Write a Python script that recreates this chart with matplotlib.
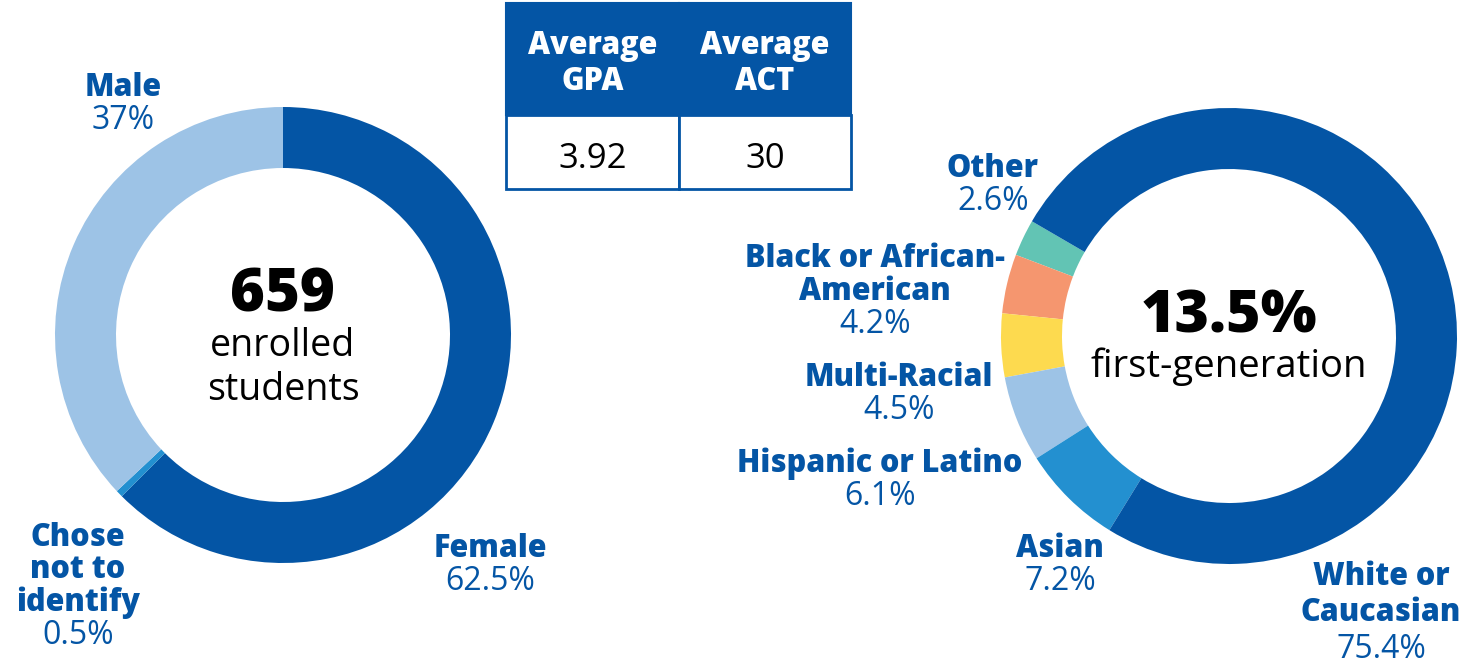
import matplotlib
matplotlib.use("Agg")
import matplotlib.pyplot as plt
from matplotlib.patches import Rectangle

plt.rcParams['font.family'] = ['Open Sans', 'DejaVu Sans']

# datos
genero = ["Female", "Chose not to identify", "Male"]
genero_pct = [62.5, 0.5, 37.0]
genero_colores = ["#0455a5", "#2390d0", "#9dc3e6"]
total_alumnos = 659

etnia = ["Other", "Black or African-American", "Multi-Racial",
         "Hispanic or Latino", "Asian", "White or Caucasian"]
etnia_pct = [2.6, 4.2, 4.5, 6.1, 7.2, 75.4]
etnia_colores = ["#62c4b4", "#f5966f", "#fdda4f", "#9dc3e6", "#2390d0", "#0455a5"]
primera_gen = 13.5

tabla_encabezados = ["Average\nGPA", "Average\nACT"]
tabla_valores = ["3.92", "30"]

AZUL = "#0455a5"
W, H = 1480, 664
DY = 4  # va=center deja el texto algo alto

fig = plt.figure(figsize=(W / 100, H / 100), dpi=100)


def px(x, y):
    return x / W, 1 - (y + DY) / H


def donut(cx, cy, r, r_in, valores, colores, start, ccw):
    ax = fig.add_axes([(cx - r) / W, 1 - (cy + r) / H, 2 * r / W, 2 * r / H])
    ax.pie(valores, colors=colores, startangle=start, counterclock=ccw,
           radius=1, wedgeprops=dict(width=1 - r_in / r, linewidth=0))
    ax.set_xlim(-1, 1)
    ax.set_ylim(-1, 1)
    ax.set_aspect("equal")
    ax.axis("off")
    return ax


donut(283, 335, 228, 167, genero_pct, genero_colores, 90, False)
donut(1229, 336, 228, 167, etnia_pct, etnia_colores, 149.8, True)


def etiqueta(x, y, nombre, pct, paso=32.5):
    lineas = nombre.split("\n")
    for i, l in enumerate(lineas):
        fig.text(*px(x, y + i * paso), l, ha="center", va="center",
                 fontsize=22, fontweight="heavy", color=AZUL)
    fig.text(*px(x, y + len(lineas) * paso), pct, ha="center", va="center",
             fontsize=23, color=AZUL)


def fmt(v):
    return f"{v:g}%"


etiqueta(123, 84, "Male", fmt(genero_pct[2]))
etiqueta(490, 545, "Female", fmt(genero_pct[0]))
etiqueta(78, 534, "Chose\nnot to\nidentify", fmt(genero_pct[1]))

etiqueta(993, 165, "Other", fmt(etnia_pct[0]))
etiqueta(875, 255, "Black or African-\nAmerican", fmt(etnia_pct[1]))
etiqueta(899, 374, "Multi-Racial", fmt(etnia_pct[2]))
etiqueta(880, 460, "Hispanic or Latino", fmt(etnia_pct[3]))
etiqueta(1060, 545, "Asian", fmt(etnia_pct[4]))
etiqueta(1381, 573, "White or\nCaucasian", fmt(etnia_pct[5]), paso=36)

# textos centrales
fig.text(*px(283, 291), str(total_alumnos), ha="center", va="center",
         fontsize=43, fontweight="heavy", color="black")
fig.text(*px(283, 342), "enrolled", ha="center", va="center", fontsize=27)
fig.text(*px(283, 386), "students", ha="center", va="center", fontsize=27)
fig.text(*px(1229, 313), f"{primera_gen}%", ha="center", va="center",
         fontsize=42.5, fontweight="heavy", color="black")
fig.text(*px(1229, 363), "first-generation", ha="center", va="center", fontsize=27.5)

# tabla
tx = fig.add_axes([0, 0, 1, 1])
tx.set_xlim(0, W)
tx.set_ylim(H, 0)
tx.axis("off")
bordes = [506, 679, 851]
y0, y1, y2 = 3, 115, 189
for i in range(2):
    xa, xb = bordes[i], bordes[i + 1]
    tx.add_patch(Rectangle((xa, y0), xb - xa, y1 - y0, facecolor=AZUL,
                           edgecolor=AZUL, lw=1.5))
    tx.add_patch(Rectangle((xa, y1), xb - xa, y2 - y1, facecolor="white",
                           edgecolor=AZUL, lw=2))
    xm = (xa + xb) / 2
    tx.text(xm, 42 + DY, tabla_encabezados[i].split("\n")[0], ha="center",
            va="center", fontsize=22, fontweight="heavy", color="white")
    tx.text(xm, 78 + DY, tabla_encabezados[i].split("\n")[1], ha="center",
            va="center", fontsize=22, fontweight="heavy", color="white")
    tx.text(xm, 155 + DY, tabla_valores[i], ha="center", va="center",
            fontsize=25, color="black")

fig.savefig("out.png", dpi=100)
